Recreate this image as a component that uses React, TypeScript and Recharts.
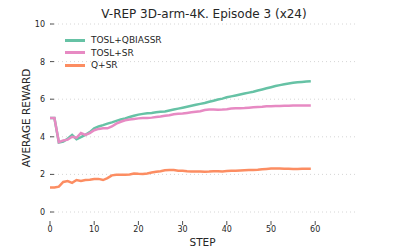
import { LineChart, Line, XAxis, YAxis, CartesianGrid, Legend, Label } from "recharts";

const steps = [
  0, 1, 2, 3, 4, 5, 6, 7, 8, 9, 10, 11, 12, 13, 14, 15, 16, 17, 18, 19,
  20, 21, 22, 23, 24, 25, 26, 27, 28, 29, 30, 31, 32, 33, 34, 35, 36, 37, 38, 39,
  40, 41, 42, 43, 44, 45, 46, 47, 48, 49, 50, 51, 52, 53, 54, 55, 56, 57, 58, 59,
];

const toslQbias = [
  5.0, 5.0, 3.7, 3.75, 3.9, 4.1, 3.87, 3.98, 4.1, 4.25, 4.45, 4.55, 4.62, 4.7, 4.77, 4.85, 4.92, 4.98, 5.05, 5.12,
  5.18, 5.22, 5.25, 5.27, 5.3, 5.33, 5.35, 5.4, 5.45, 5.5, 5.55, 5.6, 5.65, 5.7, 5.75, 5.8, 5.86, 5.92, 5.98, 6.03,
  6.1, 6.15, 6.2, 6.25, 6.3, 6.35, 6.4, 6.46, 6.52, 6.58, 6.64, 6.7, 6.75, 6.8, 6.84, 6.87, 6.9, 6.92, 6.94, 6.96,
];

const toslSr = [
  5.0, 5.0, 3.72, 3.8, 3.85, 4.0, 3.95, 4.2, 4.1, 4.2, 4.35, 4.42, 4.45, 4.45, 4.55, 4.7, 4.8, 4.88, 4.92, 4.95,
  4.98, 5.0, 5.0, 5.02, 5.05, 5.08, 5.12, 5.15, 5.2, 5.22, 5.24, 5.27, 5.3, 5.33, 5.36, 5.42, 5.45, 5.45, 5.44, 5.45,
  5.47, 5.5, 5.52, 5.52, 5.53, 5.55, 5.57, 5.59, 5.6, 5.62, 5.63, 5.64, 5.64, 5.65, 5.65, 5.66, 5.66, 5.66, 5.66, 5.66,
];

const qSr = [
  1.3, 1.3, 1.35, 1.6, 1.65, 1.55, 1.7, 1.65, 1.7, 1.72, 1.75, 1.76, 1.7, 1.8, 1.95, 1.98, 1.98, 1.98, 2.0, 2.05,
  2.03, 2.02, 2.05, 2.1, 2.14, 2.17, 2.22, 2.24, 2.23, 2.2, 2.2, 2.17, 2.16, 2.15, 2.15, 2.14, 2.15, 2.17, 2.17, 2.16,
  2.18, 2.2, 2.2, 2.21, 2.22, 2.23, 2.24, 2.25, 2.27, 2.29, 2.31, 2.32, 2.32, 2.3, 2.3, 2.29, 2.29, 2.3, 2.3, 2.3,
];

const seriesNames = ["TOSL+QBIASSR", "TOSL+SR", "Q+SR"];
const xTicks = [0, 10, 20, 30, 40, 50, 60];
const yTicks = [0, 2, 4, 6, 8, 10];

const data = steps.map((s, i) => ({
  step: s,
  qbias: toslQbias[i],
  sr: toslSr[i],
  q: qSr[i],
}));

const FONT = "'DejaVu Sans', sans-serif";
const INK = "#262626";

const LeftTick = ({ x, y, payload }: any) => (
  <g>
    <line x1={x} x2={x + 4} y1={y} y2={y} stroke={INK} strokeWidth={0.8} />
    <text x={x - 5} y={y + 3} textAnchor="end" fontSize={8} fill={INK} fontFamily={FONT}>
      {payload.value}
    </text>
  </g>
);

const RightTick = ({ x, y }: any) => (
  <line x1={x} x2={x + 4} y1={y} y2={y} stroke={INK} strokeWidth={0.8} />
);

const TopTick = ({ x, y }: any) => (
  <line x1={x} x2={x} y1={y} y2={y + 4} stroke={INK} strokeWidth={0.8} />
);

const BottomTick = ({ x, y, payload }: any) => (
  <g>
    <line x1={x} x2={x} y1={y + 9} y2={y + 13} stroke={INK} strokeWidth={0.8} />
    <text x={x} y={y + 20} textAnchor="middle" fontSize={8} fill={INK} fontFamily={FONT}>
      {payload.value}
    </text>
  </g>
);

const LegendBox = ({ payload }: any) => {
  const items = [...(payload || [])].sort(
    (a: any, b: any) => seriesNames.indexOf(a.value) - seriesNames.indexOf(b.value)
  );
  return (
    <div style={{ fontFamily: FONT, fontSize: 9, color: INK }}>
      {items.map((p: any) => (
        <div key={p.value} style={{ display: "flex", alignItems: "center", height: 12.5 }}>
          <span style={{ display: "inline-block", width: 20, height: 2.7, background: p.color, marginRight: 6 }} />
          <span>{p.value}</span>
        </div>
      ))}
    </div>
  );
};

export default function App() {
  return (
    <div style={{ position: "relative", width: 399, height: 247 }}>
      <style>{"body{margin:0}"}</style>
      <div
        style={{
          position: "absolute",
          left: 0,
          top: 8,
          width: 408,
          textAlign: "center",
          fontFamily: FONT,
          fontSize: 12,
          lineHeight: "12px",
          color: INK,
        }}
      >
        V-REP 3D-arm-4K. Episode 3 (x24)
      </div>
      <LineChart width={399} height={247} data={data} margin={{ top: 24, right: 0, bottom: 0, left: 0 }}>
        <CartesianGrid vertical={false} stroke="#cccccc" strokeDasharray="1 3" strokeWidth={0.8} />
        <XAxis
          dataKey="step"
          type="number"
          domain={[0, 69]}
          ticks={xTicks}
          height={35}
          axisLine={false}
          tickLine={false}
          tickSize={0}
          tickMargin={0}
          tick={<BottomTick />}
        >
          <Label
            value="STEP"
            position="insideBottom"
            offset={1}
            style={{ fontFamily: FONT, fontSize: 10.5, fill: INK }}
          />
        </XAxis>
        <XAxis
          xAxisId="top"
          orientation="top"
          dataKey="step"
          type="number"
          domain={[0, 69]}
          ticks={xTicks}
          height={0}
          axisLine={false}
          tickLine={false}
          tickSize={0}
          tickMargin={0}
          tick={<TopTick />}
        />
        <YAxis
          domain={[0, 10]}
          ticks={yTicks}
          width={50}
          axisLine={false}
          tickLine={false}
          tickSize={0}
          tickMargin={0}
          tick={<LeftTick />}
        >
          <Label
            value="AVERAGE REWARD"
            angle={-90}
            position="insideLeft"
            offset={26}
            style={{ fontFamily: FONT, fontSize: 10.5, fill: INK, textAnchor: "middle" }}
          />
        </YAxis>
        <YAxis
          yAxisId="right"
          orientation="right"
          domain={[0, 10]}
          ticks={yTicks}
          width={44}
          axisLine={false}
          tickLine={false}
          tickSize={0}
          tickMargin={0}
          tick={<RightTick />}
        />
        <Legend
          layout="vertical"
          align="center"
          verticalAlign="middle"
          content={<LegendBox />}
          wrapperStyle={{ left: 65, top: 34, width: "auto" }}
        />
        <Line
          type="linear"
          dataKey="qbias"
          name={seriesNames[0]}
          stroke="#66c2a5"
          strokeWidth={2.5}
          dot={false}
          isAnimationActive={false}
        />
        <Line
          type="linear"
          dataKey="sr"
          name={seriesNames[1]}
          stroke="#e78ac3"
          strokeWidth={2.5}
          dot={false}
          isAnimationActive={false}
        />
        <Line
          type="linear"
          dataKey="q"
          name={seriesNames[2]}
          stroke="#fc8d62"
          strokeWidth={2.5}
          dot={false}
          isAnimationActive={false}
        />
      </LineChart>
    </div>
  );
}
